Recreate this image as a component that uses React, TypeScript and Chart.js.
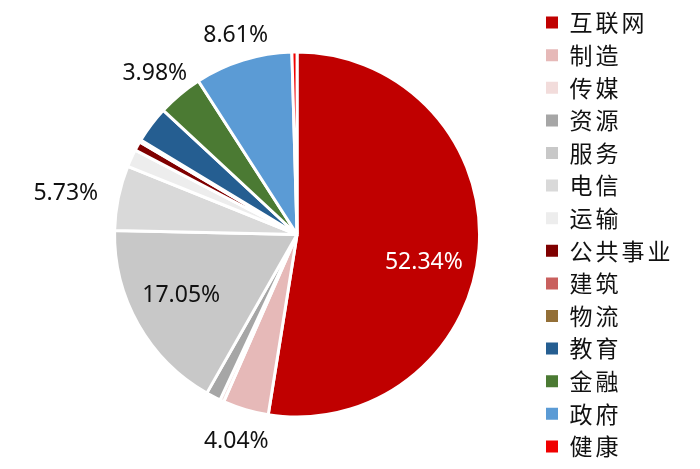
import React, { useEffect, useRef } from 'react';
import { Chart, registerables } from 'chart.js';

Chart.register(...registerables);

const categories = ['互联网', '制造', '传媒', '资源', '服务', '电信', '运输', '公共事业', '建筑', '物流', '教育', '金融', '政府', '健康'];
const shares = [52.34, 4.04, 0.35, 1.3, 17.05, 5.73, 1.55, 0.8, 0.1, 0.1, 3.25, 3.98, 8.61, 0.45];
const colors = ['#C00000', '#E6B9B8', '#F2DCDB', '#A6A6A6', '#C8C8C8', '#D9D9D9', '#EDEDED', '#7F0000', '#C9605E', '#936F37', '#255E91', '#4B7A33', '#5B9BD5', '#F00000'];
// label placement: distance as fraction of radius (0 = no label) and angular shift in degrees
const labelDist = [0.712, 1.18, 0, 0, 0.716, 1.287, 0, 0, 0, 0, 0, 1.178, 1.139, 0];
const labelShiftDeg = [8, 0, 0, 0, 2, -1.5, 0, 0, 0, 0, 0, -1.5, 0, 0];
const labelColors = ['#FFFFFF', '#111111', '', '', '#111111', '#111111', '', '', '', '', '', '#111111', '#111111', ''];

const pctLabelPlugin = {
  id: 'pctLabels',
  beforeLayout(chart: any) {
    chart.ctx.letterSpacing = '3px';
  },
  beforeDraw(chart: any) {
    chart.ctx.letterSpacing = '3px';
  },
  afterDatasetsDraw(chart: any) {
    const ctx = chart.ctx;
    const meta = chart.getDatasetMeta(0);
    ctx.save();
    ctx.letterSpacing = '0px';
    ctx.font = '23px "Noto Sans", sans-serif';
    ctx.textAlign = 'center';
    ctx.textBaseline = 'middle';
    meta.data.forEach((arc: any, i: number) => {
      if (!labelDist[i]) return;
      const { x, y, startAngle, endAngle, outerRadius } = arc.getProps(['x', 'y', 'startAngle', 'endAngle', 'outerRadius'], true);
      const a = (startAngle + endAngle) / 2 + (labelShiftDeg[i] * Math.PI) / 180;
      const r = outerRadius * labelDist[i];
      ctx.fillStyle = labelColors[i];
      ctx.fillText(shares[i].toFixed(2) + '%', x + Math.cos(a) * r, y + Math.sin(a) * r);
    });
    ctx.restore();
  },
};

export default function App() {
  const ref = useRef<HTMLCanvasElement>(null);
  useEffect(() => {
    const baseGen = (Chart as any).overrides.doughnut.plugins.legend.labels.generateLabels;
    const chart = new Chart(ref.current as HTMLCanvasElement, {
      type: 'pie',
      data: {
        labels: categories,
        datasets: [
          {
            data: shares,
            backgroundColor: colors,
            borderColor: '#FFFFFF',
            borderWidth: 3,
            radius: 182.5,
          } as any,
        ],
      },
      options: {
        responsive: true,
        maintainAspectRatio: false,
        animation: false,
        layout: { padding: { left: 57.7, right: 16.5, top: 0, bottom: 0 } },
        plugins: {
          legend: {
            position: 'right',
            labels: {
              boxWidth: 12,
              boxHeight: 12,
              padding: 9.6,
              color: '#111111',
              font: { size: 23, family: '"Noto Sans CJK SC", sans-serif' },
              generateLabels: (c: any) => baseGen(c).map((l: any) => ({ ...l, lineWidth: 0 })),
            },
          },
          tooltip: { enabled: false },
        },
      },
      plugins: [pctLabelPlugin],
    });
    return () => chart.destroy();
  }, []);
  return (
    <div style={{ position: 'fixed', left: 0, top: 0, width: 700, height: 469, background: '#FFFFFF' }}>
      <canvas ref={ref} />
    </div>
  );
}
